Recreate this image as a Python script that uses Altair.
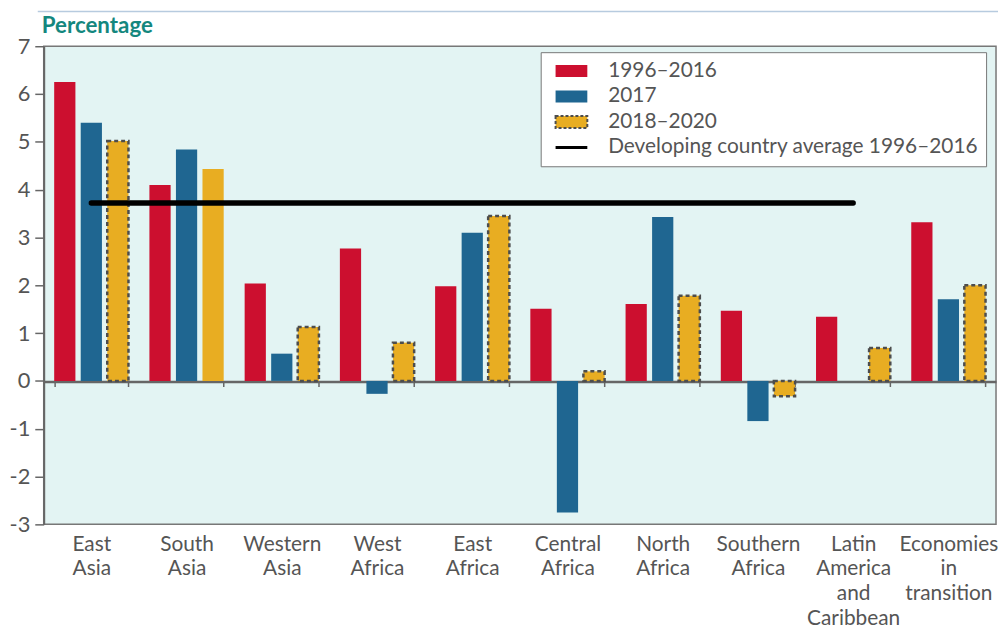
import altair as alt
import pandas as pd

regions = ["East Asia", "South Asia", "Western Asia", "West Africa", "East Africa",
           "Central Africa", "North Africa", "Southern Africa",
           "Latin America and Caribbean", "Economies in transition"]
series = ["1996–2016", "2017", "2018–2020"]
avg_label = "Developing country average 1996–2016"

v_1996_2016 = [6.25, 4.10, 2.04, 2.77, 1.98, 1.51, 1.61, 1.47, 1.34, 3.32]
v_2017 = [5.40, 4.84, 0.57, -0.27, 3.10, -2.75, 3.43, -0.84, None, 1.71]
v_2018_2020 = [5.02, 4.43, 1.13, 0.80, 3.45, 0.20, 1.78, -0.32, 0.69, 2.00]
dashed_2018_2020 = [True, False, True, True, True, True, True, True, True, True]

dev_avg = 3.72
avg_from = "East Asia"
avg_to = "Latin America and Caribbean"

colors = ["#CC0F2F", "#1F6691", "#E8AD22", "#000000"]
y_ticks = [-3, -2, -1, 0, 1, 2, 3, 4, 5, 6, 7]

FONT = "Lato"
GREY = "#555555"

rows = []
for vals, s, dashed in [(v_1996_2016, series[0], [False] * 10),
                        (v_2017, series[1], [False] * 10),
                        (v_2018_2020, series[2], dashed_2018_2020)]:
    for r, v, d in zip(regions, vals, dashed):
        if v is not None:
            rows.append({"region": r, "series": s, "value": v, "dashed": d})
bars_df = pd.DataFrame(rows)

avg_df = pd.DataFrame({"region": [avg_from], "region_to": [avg_to],
                       "value": [dev_avg], "series": [avg_label]})

x_scale = alt.Scale(domain=regions, paddingInner=0.22, paddingOuter=0.11)
y_scale = alt.Scale(domain=[-3, 7], nice=False)

sym_rect = "M-1.6,-0.6H1.6V0.6H-1.6Z"
sym_line = "M-1.6,-0.16H1.6V0.16H-1.6Z"

bars = alt.Chart(bars_df).mark_bar(strokeWidth=2.5, clip=False).encode(
    x=alt.X("region:N", scale=x_scale, sort=regions,
            axis=alt.Axis(title=None,
                          labelExpr="isValid(datum.value) ? split(datum.value, ' ') : ''",
                          labelAngle=0, labelFontSize=21, labelFont=FONT,
                          labelColor=GREY, labelLineHeight=25,
                          labelBaseline="top", labelPadding=148, offset=-144,
                          tickBand="extent", tickSize=5, tickColor="#666",
                          tickWidth=1.5, domainColor="#666", domainWidth=2.5)),
    xOffset=alt.XOffset("series:N", sort=series,
                        scale=alt.Scale(domain=series, paddingInner=0.2)),
    y=alt.Y("value:Q", scale=y_scale,
            axis=alt.Axis(title=None, values=y_ticks, labelExpr="'' + datum.value",
                          labelFontSize=22, labelFont=FONT, labelColor=GREY,
                          tickSize=9, tickColor="#666", tickWidth=1.5,
                          domainColor="#666", domainWidth=2, grid=False,
                          labelPadding=5)),
    color=alt.Color("series:N",
                    scale=alt.Scale(domain=series + [avg_label], range=colors),
                    legend=alt.Legend(
                        title=None, orient="none", legendX=501, legendY=6,
                        fillColor="white", strokeColor="#777",
                        padding=8, labelFontSize=21, labelFont=FONT,
                        labelColor=GREY, labelLimit=500, labelOffset=26,
                        labelExpr="datum.label + '\u2003'",
                        symbolSize=400, rowPadding=4.7, symbolOffset=12,
                        symbolType=alt.ExprRef(
                            expr=f"datum.value == '{avg_label}' ? '{sym_line}' : '{sym_rect}'"),
                        symbolStrokeColor=alt.ExprRef(
                            expr=f"datum.value == '{series[2]}' ? '#4D4D4D' : 'transparent'"),
                        symbolDash=alt.ExprRef(
                            expr=f"datum.value == '{series[2]}' ? [3, 2] : [1, 0]"),
                        symbolStrokeWidth=2,
                    )),
    stroke=alt.condition("datum.dashed", alt.value("#4D4D4D"), alt.value("transparent")),
    strokeDash=alt.condition("datum.dashed", alt.value([4, 3]), alt.value([1, 0])),
)

avg_line = alt.Chart(avg_df).mark_rule(strokeWidth=5.5, strokeCap="round", color="black").encode(
    x=alt.X("region:N", scale=x_scale, bandPosition=0.5),
    x2=alt.X2("region_to", bandPosition=0.5),
    y=alt.Y("value:Q", scale=y_scale),
)

top_line = alt.Chart(avg_df).mark_rule(color="#B7CBDF", strokeWidth=1.5, clip=False).encode(
    x=alt.value(-6), x2=alt.value(970), y=alt.value(-35)
)

chart = alt.layer(bars, avg_line, top_line).properties(
    width=960, height=482,
    title=alt.TitleParams("Percentage", anchor="start", frame="group", fontSize=22.5,
                          font=FONT, fontWeight="bold", color="#14877E",
                          offset=0, dx=-2, dy=27),
    autosize=alt.AutoSizeParams(type="none"),
    padding={"left": 36, "top": 36, "right": 2, "bottom": 110},
).configure_view(
    fill="#E3F4F3", stroke="#777", strokeWidth=1.5
)

chart.save("out.html", embed_options={"renderer": "svg", "actions": False})
